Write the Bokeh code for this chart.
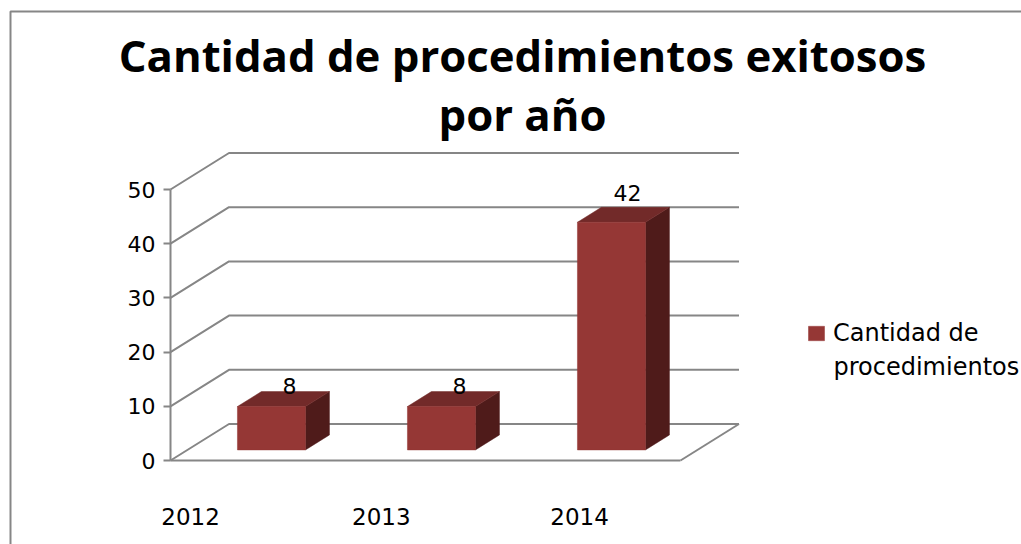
from bokeh.plotting import figure
from bokeh.models import (ColumnDataSource, Range1d, LinearAxis, FixedTicker, Legend, LegendItem, BoxAnnotation)
from bokeh.core.properties import value
from bokeh.embed import file_html
from bokeh.resources import INLINE

# ---- data ----
TITLE_LINES = ["Cantidad de procedimientos exitosos", "por año"]
YEARS = ["2012", "2013", "2014"]
PROCEDURES = [8, 8, 42]
Y_TICKS = [0, 10, 20, 30, 40, 50]
SERIES_NAME_LINES = ["Cantidad de", "procedimientos"]
YEAR_TICK_POS = [0.118, 1.24, 2.406]   # where the year labels sit on the floor

# ---- layout / style ----
TITLE_FONT = "Open Sans"
FONT = "DejaVu Sans"
W, H = 1021, 544
X0_PX, Y0_PX = 170, 460          # position of the front-left floor corner
CAT_PX, UNIT_PX = 170, 5.42      # pixels per category, pixels per value unit
DEPTH_X, DEPTH_Y = 58.5 / CAT_PX, 36.5 / UNIT_PX   # projection of the full chart depth
BAR_W = 0.4
BAR_D0, BAR_D1 = 0.29, 0.70      # bar front and back, as fractions of depth
BAR_X0 = 0.294                   # bar left edge offset inside its category
GRAY = "#868686"
FRONT, TOP, SIDE = "#953735", "#722A29", "#4F1B1A"


def px_x(px):
    return (px - X0_PX) / CAT_PX


def px_y(py):
    return (Y0_PX - py) / UNIT_PX


p = figure(width=W, height=H, output_backend="svg", toolbar_location=None,
           x_range=Range1d(px_x(0), px_x(W)),
           y_range=Range1d(px_y(H), px_y(0)),
           x_axis_type=None, y_axis_type=None, min_border=0,
           background_fill_color="white", border_fill_color="white", outline_line_color=None)
p.grid.visible = False

# chart area border (only the top and left edges are in view)
p.add_layout(BoxAnnotation(left=px_x(10), right=px_x(1100), top=px_y(11), bottom=px_y(640),
                           fill_alpha=0, line_color=GRAY, line_alpha=1, line_width=2))

# back wall and side wall grid lines
n_cat = len(YEARS)
grid_xs = [[0, DEPTH_X, n_cat + DEPTH_X] for _ in Y_TICKS]
grid_ys = [[v, v + DEPTH_Y, v + DEPTH_Y] for v in Y_TICKS]
p.multi_line(grid_xs, grid_ys, line_color=GRAY, line_width=2)
# floor right edge
p.line([n_cat, n_cat + DEPTH_X], [0, DEPTH_Y], line_color=GRAY, line_width=2)

# 3-D bars
front_x, front_y, top_x, top_y, side_x, side_y = [], [], [], [], [], []
for i, v in enumerate(PROCEDURES):
    x0 = i + BAR_X0 + BAR_D0 * DEPTH_X
    x1 = x0 + BAR_W
    y0 = BAR_D0 * DEPTH_Y
    y1 = y0 + v
    dx = (BAR_D1 - BAR_D0) * DEPTH_X
    dy = (BAR_D1 - BAR_D0) * DEPTH_Y
    front_x.append([x0, x1, x1, x0])
    front_y.append([y0, y0, y1, y1])
    top_x.append([x0, x1, x1 + dx, x0 + dx])
    top_y.append([y1, y1, y1 + dy, y1 + dy])
    side_x.append([x1, x1 + dx, x1 + dx, x1])
    side_y.append([y0, y0 + dy, y1 + dy, y1])

p.patches(side_x, side_y, fill_color=SIDE, line_color=SIDE, line_width=0.5)
p.patches(top_x, top_y, fill_color=TOP, line_color=TOP, line_width=0.5)
front = p.patches(front_x, front_y, fill_color=FRONT, line_color=FRONT, line_width=0.5)

# value labels
label_src = ColumnDataSource(dict(
    x=[i + BAR_X0 + BAR_D0 * DEPTH_X + BAR_W / 2 for i in range(n_cat)],
    y=[BAR_D0 * DEPTH_Y + v + (BAR_D1 - BAR_D0) * DEPTH_Y for v in PROCEDURES],
    t=[str(v) for v in PROCEDURES],
    dx=[18, 18, 16],
    dy=[-6, -6, -14],
))
p.text("x", "y", text="t", source=label_src, text_font=value(FONT), text_font_size="22px",
       text_color="black", text_align="center", text_baseline="alphabetic",
       x_offset="dx", y_offset="dy")

# axes
yax = LinearAxis(fixed_location=0, ticker=FixedTicker(ticks=Y_TICKS), bounds=(0, 50),
                 axis_line_color=GRAY, axis_line_width=2,
                 major_tick_line_color=GRAY, major_tick_line_width=2,
                 major_tick_in=0, major_tick_out=7, minor_tick_line_color=None,
                 major_label_standoff=8, major_label_text_font=FONT,
                 major_label_text_font_size="22px", major_label_text_color="black")
p.add_layout(yax, "left")

xax = LinearAxis(fixed_location=0, ticker=FixedTicker(ticks=YEAR_TICK_POS), bounds=(0, n_cat),
                 major_label_overrides={t: y for t, y in zip(YEAR_TICK_POS, YEARS)},
                 axis_line_color=GRAY, axis_line_width=2,
                 major_tick_line_color=None, minor_tick_line_color=None,
                 major_label_standoff=41, major_label_text_font=FONT,
                 major_label_text_font_size="23px", major_label_text_color="black")
p.add_layout(xax, "below")

# title
title_src = ColumnDataSource(dict(
    x=[px_x(522)] * 2, y=[px_y(54), px_y(113)], t=TITLE_LINES))
p.text("x", "y", text="t", source=title_src, text_font=value(TITLE_FONT), text_font_style="bold",
       text_font_size="43.7px", text_color="black", text_align="center", text_baseline="alphabetic")

# legend: swatch with the first line of the name; the second line goes beneath it
legend = Legend(items=[LegendItem(label=SERIES_NAME_LINES[0], renderers=[front])],
                location=(806, 197), orientation="vertical",
                background_fill_alpha=0, border_line_color=None,
                label_text_font=FONT, label_text_font_size="24px", label_text_color="black",
                glyph_width=20, glyph_height=18,
                label_standoff=7, margin=0, padding=0)
p.add_layout(legend, "center")
p.text([px_x(833)], [px_y(366)], text=[SERIES_NAME_LINES[1]], text_font=value(FONT),
       text_font_size="24px", text_color="black", text_align="left", text_baseline="middle")

open("out.html", "w").write(file_html(p, INLINE))
